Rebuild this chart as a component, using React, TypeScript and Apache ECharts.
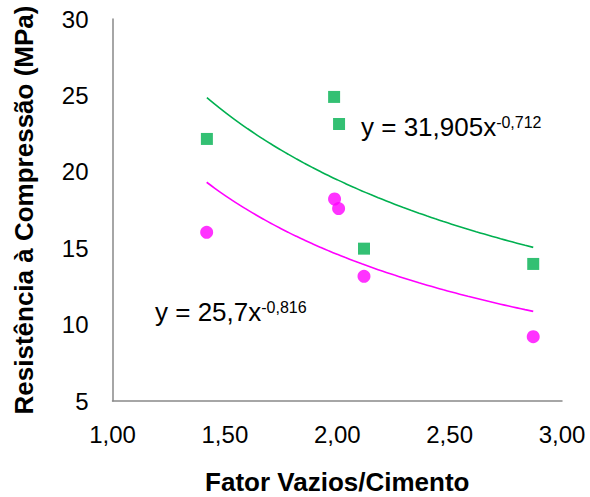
import React, { useEffect, useRef } from "react";
import * as echarts from "echarts";

const FONT = "'Liberation Sans', Arial, sans-serif";

const xTicks = [1.0, 1.5, 2.0, 2.5, 3.0];
const yTicks = [5, 10, 15, 20, 25, 30];

const greenX = [1.42, 1.986, 2.008, 2.119, 2.872];
const greenY = [22.15, 24.9, 23.13, 14.97, 13.97];

const magentaX = [1.419, 1.988, 2.006, 2.119, 2.872];
const magentaY = [16.04, 18.22, 17.59, 13.16, 9.21];

// trendline coefficients shown in the chart: y = a * x^b
const greenFit = [31.905, -0.712];
const magentaFit = [25.7, -0.816];

const greenEq = ["y = 31,905x", "-0,712"];
const magentaEq = ["y = 25,7x", "-0,816"];

function fitLine(xs: number[], fit: number[]) {
  const lo = Math.min(...xs);
  const hi = Math.max(...xs);
  const n = 40;
  const pts: number[][] = [];
  for (let i = 0; i <= n; i++) {
    const x = lo + ((hi - lo) * i) / n;
    pts.push([x, fit[0] * Math.pow(x, fit[1])]);
  }
  return pts;
}

export default function App() {
  const ref = useRef<HTMLDivElement>(null);
  useEffect(() => {
    if (!ref.current) return;
    const chart = echarts.init(ref.current, undefined, { renderer: "svg" });
    const fmt = (v: number) => v.toFixed(2).replace(".", ",");
    const eqRich = {
      a: { fontSize: 26, fontFamily: FONT, fill: "#000", verticalAlign: "top" },
      b: { fontSize: 16, fontFamily: FONT, fill: "#000", verticalAlign: "top" },
    };
    chart.setOption({
      animation: false,
      backgroundColor: "#ffffff",
      textStyle: { fontFamily: FONT },
      grid: {
        left: 112.5,
        right: 28,
        top: 19,
        bottom: 96,
        containLabel: false,
        outerBoundsMode: "none",
      },
      xAxis: {
        type: "value",
        min: xTicks[0],
        max: xTicks[xTicks.length - 1],
        interval: 0.5,
        axisLine: { show: true, lineStyle: { color: "#898989", width: 1.5 } },
        axisTick: { show: false },
        splitLine: { show: false },
        axisLabel: {
          fontSize: 24,
          color: "#000",
          fontFamily: FONT,
          margin: 21,
          formatter: fmt,
        },
        name: "Fator Vazios/Cimento",
        nameLocation: "middle",
        nameGap: 68,
        nameTextStyle: { fontSize: 26, fontWeight: "bold", color: "#000", fontFamily: FONT },
      },
      yAxis: {
        type: "value",
        min: yTicks[0],
        max: yTicks[yTicks.length - 1],
        interval: 5,
        axisLine: { show: true, lineStyle: { color: "#898989", width: 1.5 } },
        axisTick: { show: false },
        splitLine: { show: false },
        axisLabel: {
          fontSize: 24,
          color: "#000",
          fontFamily: FONT,
          margin: 24,
        },
        name: "Resistência à Compressão (MPa)",
        nameLocation: "middle",
        nameGap: 76,
        nameTextStyle: { fontSize: 26, fontWeight: "bold", color: "#000", fontFamily: FONT },
      },
      series: [
        {
          type: "line",
          data: fitLine(greenX, greenFit),
          showSymbol: false,
          smooth: true,
          lineStyle: { color: "#00B050", width: 1.6 },
          z: 2,
        },
        {
          type: "line",
          data: fitLine(magentaX, magentaFit),
          showSymbol: false,
          smooth: true,
          lineStyle: { color: "#FF00FF", width: 1.6 },
          z: 2,
        },
        {
          type: "scatter",
          data: greenX.map((x, i) => [x, greenY[i]]),
          symbol: "rect",
          symbolSize: 12,
          itemStyle: { color: "#00B050" },
          z: 3,
        },
        {
          type: "scatter",
          data: magentaX.map((x, i) => [x, magentaY[i]]),
          symbol: "circle",
          symbolSize: 13,
          itemStyle: { color: "#FF00FF" },
          z: 3,
        },
      ],
      graphic: [
        {
          type: "text",
          left: 361,
          top: 114,
          style: {
            text: `{a|${greenEq[0]}}{b|${greenEq[1]}}`,
            fill: "#000",
            rich: eqRich,
          },
        },
        {
          type: "text",
          left: 155,
          top: 299,
          style: {
            text: `{a|${magentaEq[0]}}{b|${magentaEq[1]}}`,
            fill: "#000",
            rich: eqRich,
          },
        },
      ],
    });
    return () => chart.dispose();
  }, []);
  return (
    <div
      ref={ref}
      style={{ position: "fixed", left: 0, top: 0, width: 590, height: 497 }}
    />
  );
}
